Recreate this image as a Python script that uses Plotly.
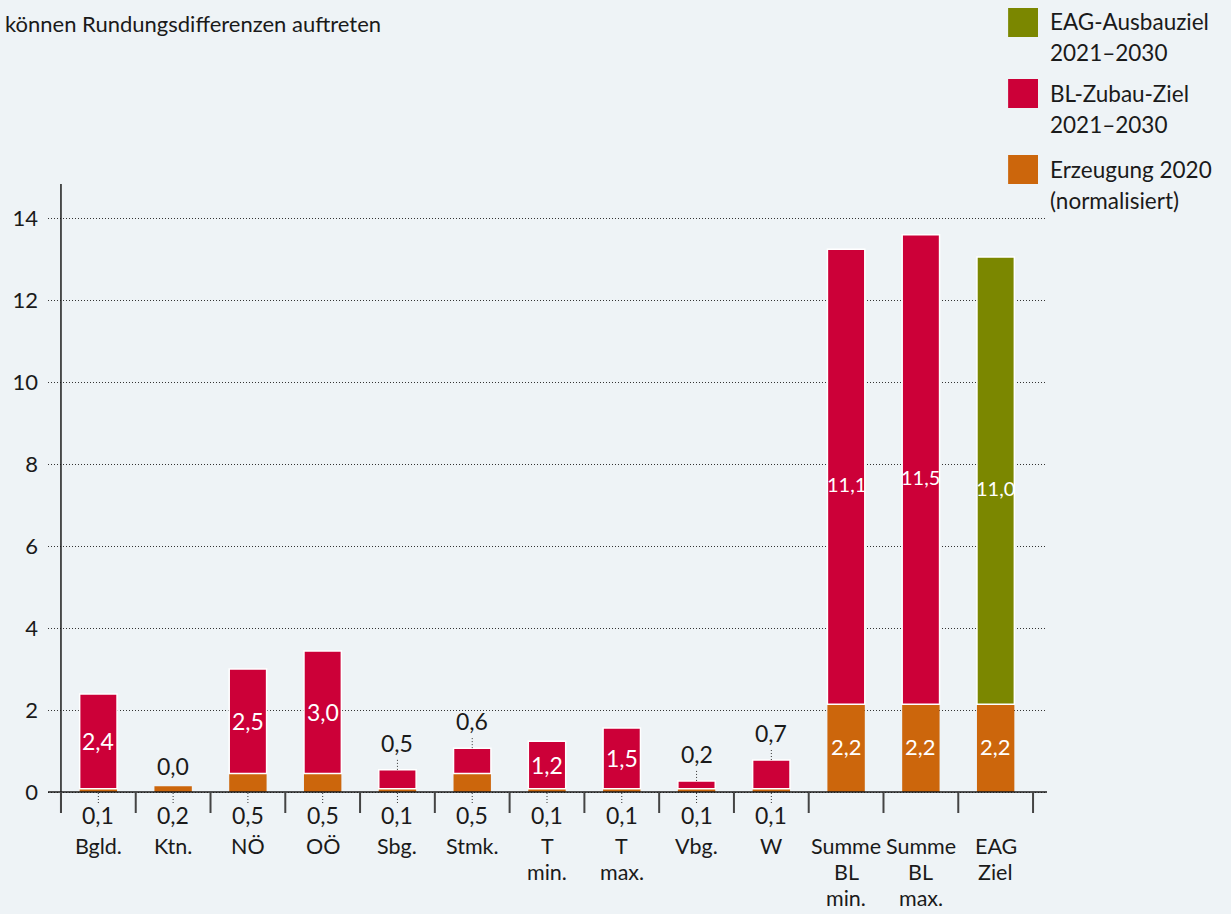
import plotly.graph_objects as go

# ---------------- data ----------------
categories = [["Bgld."], ["Ktn."], ["NÖ"], ["OÖ"], ["Sbg."], ["Stmk."], ["T", "min."], ["T", "max."],
              ["Vbg."], ["W"], ["Summe", "BL", "min."], ["Summe", "BL", "max."], ["EAG", "Ziel"]]
erzeugung_2020 = [0.08, 0.14, 0.45, 0.45, 0.08, 0.45, 0.08, 0.08, 0.08, 0.08, 2.14, 2.14, 2.14]
bl_zubau_ziel = [2.31, None, 2.55, 2.99, 0.46, 0.62, 1.16, 1.48, 0.19, 0.70, 11.10, 11.45, None]
eag_ausbauziel = [None] * 12 + [10.91]

erzeugung_labels = ["0,1", "0,2", "0,5", "0,5", "0,1", "0,5", "0,1", "0,1", "0,1", "0,1", "2,2", "2,2", "2,2"]
zubau_labels = ["2,4", "0,0", "2,5", "3,0", "0,5", "0,6", "1,2", "1,5", "0,2", "0,7", "11,1", "11,5", None]
eag_labels = [None] * 12 + ["11,0"]

# label placement: "in" = inside bar, "out" = outside with connector
erzeugung_pos = ["out"] * 10 + ["in"] * 3
zubau_pos = ["in", "out0", "in", "in", "out", "out", "in", "in", "out", "out", "in", "in", None]

y_ticks = [0, 2, 4, 6, 8, 10, 12, 14]

legend_items = [(["EAG-Ausbauziel", "2021–2030"], "#7b8700"),
                (["BL-Zubau-Ziel", "2021–2030"], "#cc0038"),
                (["Erzeugung 2020", "(normalisiert)"], "#cc660c")]
note_text = "können Rundungsdifferenzen auftreten"

# ---------------- style ----------------
FONT = "Lato, 'Open Sans', sans-serif"
TXT = "#1a1a1a"
BG = "#eef3f6"
C_ORANGE, C_RED, C_OLIVE = "#cc660c", "#cc0038", "#7b8700"
FS = 22
FS_CAT = 21.5
FS_VAL = 23
FS_BIG = 20
DOT = "1px,2px"

W, H = 1231, 914
PL, PR, PT, PB = 45, 1047, 184, 813   # plot area in px
PX_X = 75.0   # px per category
PX_Y = 41.0   # px per unit
Y0PX = 792

xr = [-0.5 - (58 - PL) / PX_X, 12.5 + (PR - 1033) / PX_X]
yr = [-(PB - Y0PX) / PX_Y, (Y0PX - PT) / PX_Y]

def px2paper_x(px):
    return (px - PL) / (PR - PL)

def px2paper_y(py):
    return (PB - py) / (PB - PT)

x = list(range(len(categories)))

fig = go.Figure()
fig.add_bar(x=x, y=erzeugung_2020, marker=dict(color=C_ORANGE, line=dict(width=0)),
            width=0.5, name="Erzeugung 2020", hoverinfo="skip")
fig.add_bar(x=x, y=bl_zubau_ziel, base=erzeugung_2020, marker=dict(color=C_RED, line=dict(color="white", width=1.5)),
            width=0.5, name="BL-Zubau-Ziel", hoverinfo="skip")
fig.add_bar(x=x, y=eag_ausbauziel, base=erzeugung_2020, marker=dict(color=C_OLIVE, line=dict(color="white", width=1.5)),
            width=0.5, name="EAG-Ausbauziel", hoverinfo="skip")

shapes = []
annotations = []

# baseline
shapes.append(dict(type="line", xref="paper", yref="y", x0=0, x1=1, y0=0, y1=0,
                   line=dict(color=TXT, width=1.5), layer="above"))
# y axis line
shapes.append(dict(type="line", xref="x", yref="paper", x0=-0.5, x1=-0.5, y0=0, y1=1,
                   line=dict(color=TXT, width=1.5), layer="above"))
# category boundary ticks
for k in range(len(categories) + 1):
    shapes.append(dict(type="line", xref="x", yref="y", x0=-0.5 + k, x1=-0.5 + k, y0=0, y1=yr[0],
                       line=dict(color="#444", width=2), layer="above"))

# orange labels
for i, (v, lab, pos) in enumerate(zip(erzeugung_2020, erzeugung_labels, erzeugung_pos)):
    if pos == "in":
        annotations.append(dict(x=i, y=v / 2, xref="x", yref="y", text=lab, showarrow=False,
                                font=dict(color="white", size=FS_VAL - 1, family=FONT), yshift=2))
    else:
        shapes.append(dict(type="line", xref="x", yref="y", x0=i, x1=i, y0=-1 / PX_Y, y1=-12 / PX_Y,
                           line=dict(color="#333", width=1, dash=DOT), layer="above"))
        annotations.append(dict(x=i, y=px2paper_y(815), xref="x", yref="paper", text=lab, showarrow=False,
                                yanchor="middle", font=dict(color=TXT, size=FS_VAL, family=FONT)))

# red / olive labels
for series, labels, positions in ((bl_zubau_ziel, zubau_labels, zubau_pos),
                                  (eag_ausbauziel, eag_labels, ["in"] * 13)):
    for i, (v, lab, pos) in enumerate(zip(series, labels, positions)):
        if lab is None:
            continue
        base = erzeugung_2020[i]
        val = v if v is not None else 0
        if pos == "in":
            big = val > 5
            annotations.append(dict(x=i, y=base + val / 2, xref="x", yref="y", text=lab, showarrow=False,
                                    font=dict(color="white", size=FS_BIG if big else FS_VAL, family=FONT),
                                    yshift=-7 if big else 0))
        else:
            top = base + val
            if pos == "out":
                shapes.append(dict(type="line", xref="x", yref="y", x0=i, x1=i, y0=top,
                                   y1=top + 12 / PX_Y, line=dict(color="#333", width=1, dash=DOT),
                                   layer="above"))
                shift = 11
            else:
                shift = 4
            annotations.append(dict(x=i, y=top, xref="x", yref="y", text=lab, showarrow=False,
                                    yanchor="bottom", yshift=shift,
                                    font=dict(color=TXT, size=FS_VAL, family=FONT)))

# category names (one annotation per line)
cat_line_px = [846, 872, 898]
for i, lines in enumerate(categories):
    for j, ln in enumerate(lines):
        annotations.append(dict(x=i, y=px2paper_y(cat_line_px[j]), xref="x", yref="paper", text=ln,
                                showarrow=False, yanchor="middle", align="center",
                                font=dict(color=TXT, size=FS_CAT, family=FONT)))

# legend (manual)
leg_tops = [8, 79, 155]
for (lines, col), top in zip(legend_items, leg_tops):
    shapes.append(dict(type="rect", xref="paper", yref="paper",
                       x0=px2paper_x(1008), x1=px2paper_x(1038),
                       y0=px2paper_y(top + 29), y1=px2paper_y(top),
                       fillcolor=col, line=dict(width=0)))
    for j, ln in enumerate(lines):
        annotations.append(dict(x=px2paper_x(1048), y=px2paper_y(top + 14 + 31 * j), xref="paper", yref="paper",
                                text=ln, showarrow=False, xanchor="left", yanchor="middle", align="left",
                                font=dict(color=TXT, size=FS + 0.5, family=FONT)))

# note text
annotations.append(dict(x=px2paper_x(0), y=px2paper_y(23), xref="paper", yref="paper", text=note_text,
                        showarrow=False, xanchor="left", yanchor="middle",
                        font=dict(color=TXT, size=FS, family=FONT)))

fig.update_layout(
    width=W, height=H,
    margin=dict(l=PL, r=W - PR, t=PT, b=H - PB, pad=0),
    paper_bgcolor=BG, plot_bgcolor=BG,
    barmode="overlay", showlegend=False,
    font=dict(family=FONT, size=FS, color=TXT),
    xaxis=dict(range=xr, showticklabels=False, showgrid=False, zeroline=False, showline=False,
               fixedrange=True),
    yaxis=dict(range=yr, tickvals=y_ticks, ticktext=[str(t) for t in y_ticks],
               showgrid=True, griddash=DOT, gridcolor="#333", gridwidth=1,
               zeroline=False, showline=False, ticks="", ticklabelstandoff=9,
               tickfont=dict(size=FS, family=FONT, color=TXT), fixedrange=True),
    shapes=shapes, annotations=annotations,
)

fig.write_html("out.html", config={"displayModeBar": False},
               post_script="document.body.style.margin='0';document.body.style.overflow='hidden';")
